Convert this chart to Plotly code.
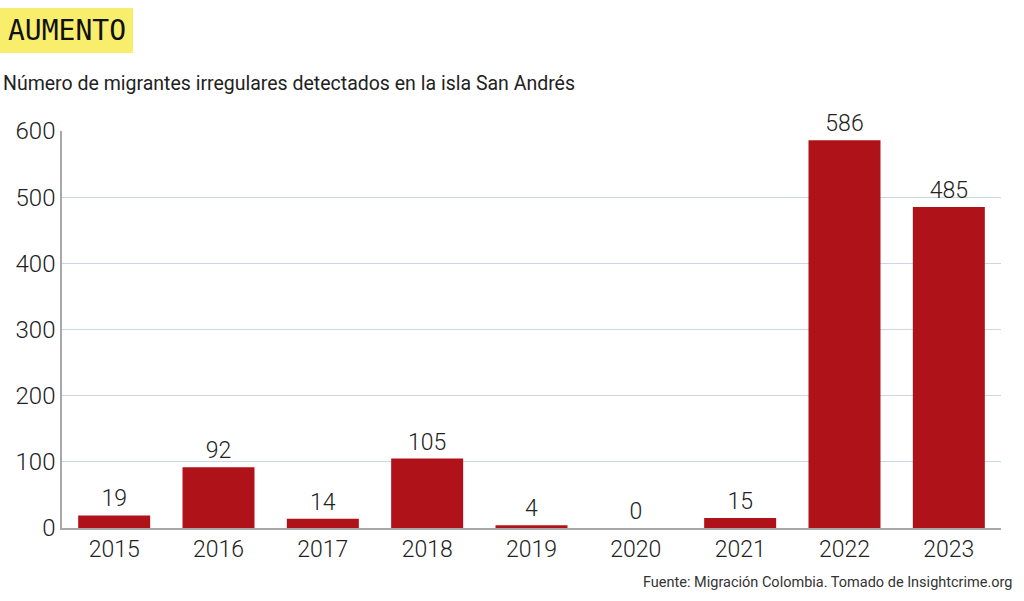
import plotly.graph_objects as go

years = ["2015", "2016", "2017", "2018", "2019", "2020", "2021", "2022", "2023"]
migrants = [19, 92, 14, 105, 4, 0, 15, 586, 485]
y_ticks = [0, 100, 200, 300, 400, 500, 600]

W, H = 1024, 601
L, R, T, B = 62, 1001, 131, 528


def px(x):
    return (x - L) / (R - L)


def py(y):
    return (B - y) / (B - T)


FONT = "Roboto, Arial"
TXT = "#222222"

fig = go.Figure(go.Bar(
    x=years, y=migrants,
    marker=dict(color="#b01219", line=dict(width=0)),
    text=[str(v) for v in migrants], textposition="outside",
    textfont=dict(size=23, color=TXT, family=FONT, weight=300),
    cliponaxis=False,
))

fig.update_layout(
    width=W, height=H,
    margin=dict(l=L, r=W - R, t=T, b=H - B),
    paper_bgcolor="white", plot_bgcolor="white",
    bargap=0.31, showlegend=False,
    font=dict(family=FONT, color=TXT),
    xaxis=dict(showgrid=False, showline=True, linecolor="#a8a8a8", linewidth=1.5,
               ticks="", tickfont=dict(size=23, family=FONT, color=TXT, weight=300)),
    yaxis=dict(range=[0, 600], tickvals=y_ticks, showgrid=True, gridcolor="#c9d7e4",
               gridwidth=1.2, showline=True, linecolor="#a8a8a8", linewidth=1.5,
               ticks="", ticklen=0, zeroline=False,
               tickfont=dict(size=24, family=FONT, color=TXT, weight=300)),
    shapes=[dict(type="rect", xref="paper", yref="paper",
                 x0=px(0), x1=px(133), y0=py(53), y1=py(8),
                 fillcolor="#f8ee6c", line=dict(width=0), layer="below")],
    annotations=[
        dict(text="AUMENTO", xref="paper", yref="paper", x=px(6), y=py(30),
             xanchor="left", yanchor="middle", showarrow=False,
             font=dict(family="DejaVu Sans Mono", size=28, color="#111111")),
        dict(text="Número de migrantes irregulares detectados en la isla San Andrés",
             xref="paper", yref="paper", x=px(1), y=py(83),
             xanchor="left", yanchor="middle", showarrow=False,
             font=dict(family=FONT, size=19.5, color=TXT)),
        dict(text="Fuente: Migración Colombia. Tomado de Insightcrime.org",
             xref="paper", yref="paper", x=px(1014), y=py(582),
             xanchor="right", yanchor="middle", showarrow=False,
             font=dict(family=FONT, size=14.5, color="#333333")),
    ],
)

fig.write_html(
    "out.html",
    config={"displayModeBar": False},
    post_script="document.body.style.margin='0';document.body.style.overflow='hidden';",
)
